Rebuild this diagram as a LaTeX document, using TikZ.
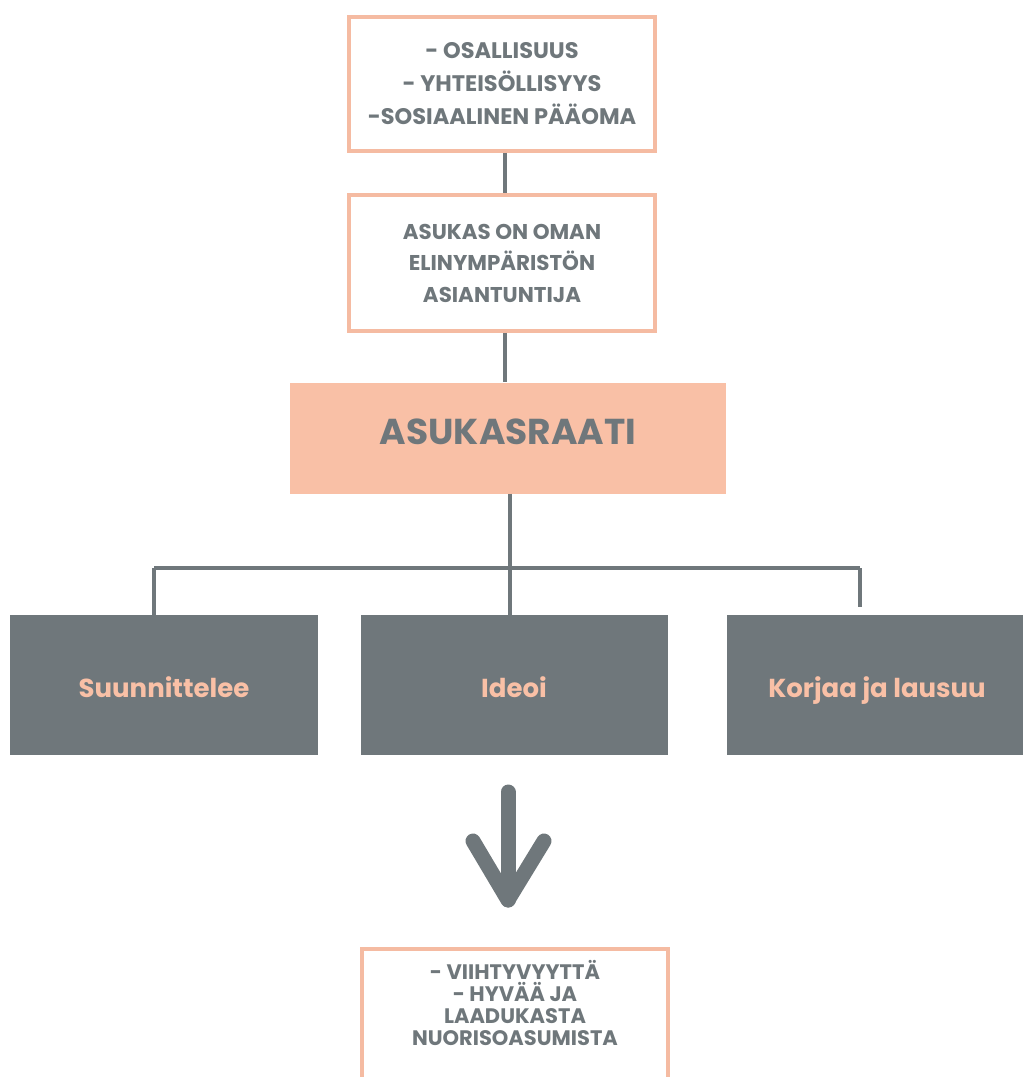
\documentclass[tikz,border=0pt]{standalone}
\usepackage{fontspec}
\setmainfont{Poppins}
\usetikzlibrary{positioning}

\definecolor{lohi}{HTML}{F9C0A6}
\definecolor{reuna}{HTML}{F5BBA2}
\definecolor{harmaa}{HTML}{6F777B}

\begin{document}
\begin{tikzpicture}[x=1pt, y=-1pt, every node/.style={align=center, text=harmaa, font=\bfseries}]
	\tikzstyle{rajattu}=[draw=reuna, line width=3.5pt, minimum width=306pt]
	\tikzstyle{toiminta}=[fill=harmaa, text=lohi, minimum height=140pt, text height=24pt, text depth=0pt, font=\bfseries\fontsize{26}{30}\selectfont]
	\tikzstyle{viiva}=[draw=harmaa, line width=4pt]
	\useasboundingbox (0,0) rectangle (1023,1077);

	\node[rajattu, minimum height=134pt, font=\bfseries\fontsize{22.5}{33}\selectfont] (arvot) at (502,84)
		{- OSALLISUUS\\- YHTEISÖLLISYYS\\-SOSIAALINEN PÄÄOMA};
	\node[rajattu, minimum height=136pt, font=\bfseries\fontsize{21.4}{31.5}\selectfont] (asiantuntija) at (502,263)
		{ASUKAS ON OMAN\\ELINYMPÄRISTÖN\\ASIANTUNTIJA};
	\node[fill=lohi, minimum width=436pt, minimum height=111pt, text depth=12pt, font=\bfseries\fontsize{36}{40}\selectfont] (raati) at (508,438)
		{ASUKASRAATI};

	\node[toiminta, minimum width=308pt] (suunnittelee) at (164,685) {Suunnittelee};
	\node[toiminta, minimum width=307pt] (ideoi) at (514,685) {Ideoi};
	\node[toiminta, minimum width=300pt] (korjaa) at (877,685) {Korjaa ja lausuu};

	\coordinate (ylaviiva) at (505,0);
	\coordinate (keskiviiva) at (510,0);
	\draw[viiva] (ylaviiva |- arvot.south) -- (ylaviiva |- asiantuntija.north);
	\draw[viiva] (ylaviiva |- asiantuntija.south) -- (ylaviiva |- raati.north);
	\draw[viiva] (keskiviiva |- raati.south) -- (keskiviiva |- ideoi.north);
	\coordinate (haaravasen) at (154,568);
	\coordinate (haaraoikea) at (860,568);
	\coordinate (haarapaa) at (860,607);
	\draw[viiva] (haaravasen) -- (haaraoikea);
	\draw[viiva] (haaravasen) -- (haaravasen |- suunnittelee.north);
	\draw[viiva] (haaraoikea) -- (haarapaa);

	% nuoli alas
	\coordinate (nuolialku) at (508,792);
	\coordinate (nuolikarki) at (508,900);
	\coordinate (nuolivasen) at (473,841);
	\coordinate (nuolioikea) at (544,841);
	\draw[viiva, line width=15pt, line cap=round] (nuolialku) -- (nuolikarki);
	\draw[viiva, line width=15pt, line cap=round, line join=round] (nuolivasen) -- (nuolikarki) -- (nuolioikea);

	\node[rajattu, minimum height=180pt, anchor=north] (tulos) at (515,947) {};
	\node[anchor=north, font=\bfseries\fontsize{21}{22}\selectfont] (tulosteksti) at ([yshift=-10pt]tulos.north)
		{- VIIHTYVYYTTÄ\\- HYVÄÄ JA\\LAADUKASTA\\NUORISOASUMISTA};
\end{tikzpicture}
\end{document}
